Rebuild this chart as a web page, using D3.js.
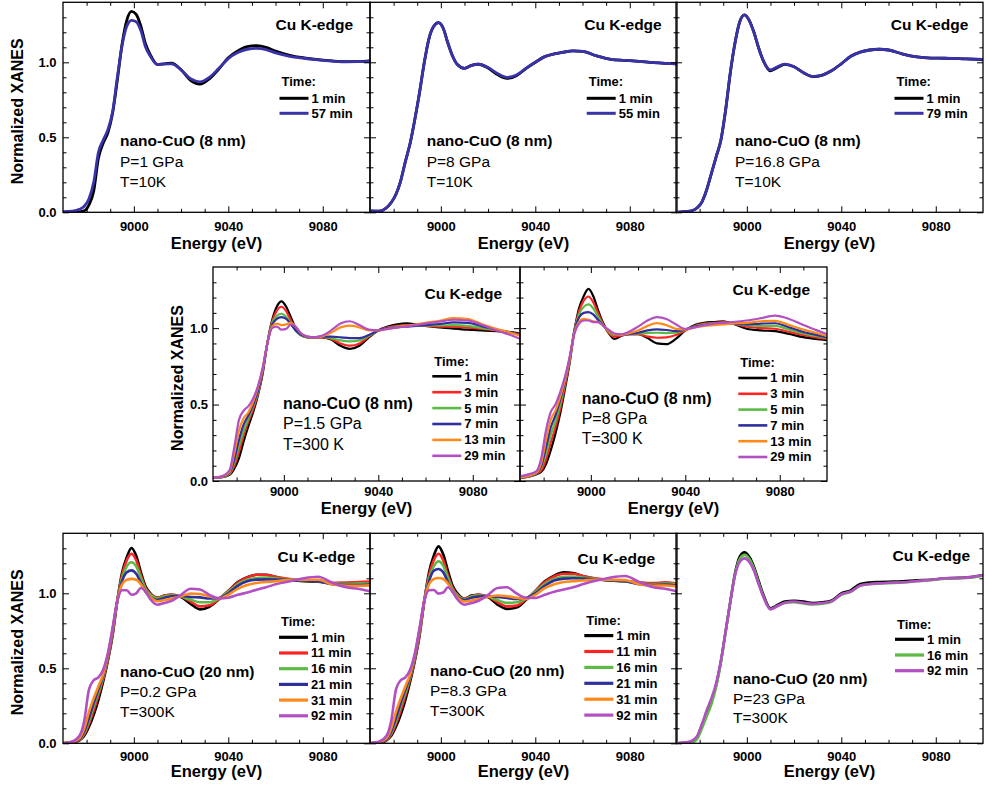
<!DOCTYPE html>
<html>
<head>
<meta charset="utf-8">
<script src="https://cdn.jsdelivr.net/npm/d3@7"></script>
<style>
  body { margin: 0; background: #fff; }
  svg text { font-family: Arial, "Liberation Sans", sans-serif; }
</style>
</head>
<body>
<div id="canvas"></div>
<script>
"use strict"

/* Configuration variables: drawing */
let svgWidth = 986;
let svgHeight = 788;
let panelWidth = 307;
let fontFamily = 'Arial, "Liberation Sans", sans-serif';

/* Axes: domains and ticks */
let xDomain = [8970, 9100];
let yDomain = [0, 1.4];
let xTicks = [9000, 9040, 9080];
let xMinorTicks = [8980, 8990, 9010, 9020, 9030, 9050, 9060, 9070, 9090];
let yTicks = [0, 0.5, 1.0];
let yMinorTicks = [0.1, 0.2, 0.3, 0.4, 0.6, 0.7, 0.8, 0.9, 1.1, 1.2, 1.3];

/* Energy grid (eV) shared by all spectra */
let energy = [8970, 8974, 8977, 8979, 8981, 8983, 8985, 8987, 8989, 8991,
    8993, 8995, 8997, 8999, 9001, 9003, 9005, 9007, 9010, 9013,
    9016, 9020, 9024, 9028, 9032, 9036, 9040, 9044, 9048, 9052,
    9056, 9060, 9066, 9072, 9078, 9084, 9090, 9095, 9100];

/* Legend labels */
let timesP1 = ["1 min", "57 min"];
let timesP2 = ["1 min", "55 min"];
let timesP3 = ["1 min", "79 min"];
let times8nm = ["1 min", "3 min", "5 min", "7 min", "13 min", "29 min"];
let times20nm = ["1 min", "11 min", "16 min", "21 min", "31 min", "92 min"];
let timesP8 = ["1 min", "16 min", "92 min"];

/* nano-CuO (8 nm), 1 GPa, 10 K */
let p1Min1 = [0.0, 0.0, 0.003, 0.01, 0.05, 0.14, 0.36, 0.46, 0.53, 0.66, 0.88, 1.12, 1.28, 1.34, 1.32, 1.24, 1.12, 1.05, 0.985, 0.99, 0.995, 0.95, 0.88, 0.855, 0.89, 0.955, 1.03, 1.075, 1.104, 1.111, 1.10, 1.075, 1.047, 1.03, 1.018, 1.009, 1.004, 1.005, 1.009];
let p1Min57 = [0.005, 0.008, 0.02, 0.04, 0.09, 0.2, 0.4, 0.48, 0.55, 0.67, 0.9, 1.11, 1.24, 1.28, 1.27, 1.21, 1.1, 1.04, 0.985, 0.99, 0.99, 0.95, 0.89, 0.87, 0.9, 0.96, 1.025, 1.065, 1.087, 1.093, 1.085, 1.063, 1.04, 1.027, 1.016, 1.008, 1.003, 1.004, 1.008];

/* nano-CuO (8 nm), 8 GPa, 10 K */
let p2Min1 = [0.01, 0.008, 0.03, 0.065, 0.12, 0.21, 0.34, 0.46, 0.62, 0.8, 1.0, 1.16, 1.24, 1.264, 1.227, 1.127, 1.04, 0.985, 0.96, 0.98, 0.987, 0.962, 0.918, 0.893, 0.91, 0.958, 1.0, 1.038, 1.056, 1.068, 1.076, 1.073, 1.043, 1.02, 1.013, 1.006, 0.998, 0.993, 0.989];
let p2Min55 = [0.01, 0.008, 0.03, 0.065, 0.12, 0.21, 0.34, 0.46, 0.62, 0.8, 1.0, 1.16, 1.24, 1.264, 1.227, 1.127, 1.04, 0.985, 0.96, 0.98, 0.987, 0.965, 0.925, 0.9, 0.915, 0.96, 1.0, 1.038, 1.056, 1.068, 1.076, 1.073, 1.043, 1.02, 1.013, 1.006, 0.998, 0.993, 0.989];

/* nano-CuO (8 nm), 16.8 GPa, 10 K */
let p3Min1 = [0.0, 0.005, 0.012, 0.03, 0.07, 0.15, 0.26, 0.37, 0.48, 0.68, 0.93, 1.13, 1.27, 1.316, 1.28, 1.2, 1.095, 1.01, 0.943, 0.965, 0.986, 0.97, 0.93, 0.905, 0.915, 0.945, 0.99, 1.04, 1.068, 1.082, 1.087, 1.082, 1.055, 1.036, 1.028, 1.027, 1.025, 1.021, 1.017];
let p3Min79 = [0.0, 0.005, 0.012, 0.03, 0.07, 0.15, 0.26, 0.37, 0.48, 0.68, 0.93, 1.13, 1.27, 1.316, 1.28, 1.2, 1.095, 1.01, 0.95, 0.97, 0.988, 0.97, 0.93, 0.906, 0.915, 0.945, 0.99, 1.04, 1.068, 1.082, 1.087, 1.082, 1.055, 1.036, 1.028, 1.027, 1.025, 1.022, 1.02];

/* nano-CuO (8 nm), 1.5 GPa, 300 K */
let p4Min1 = [0.02, 0.025, 0.04, 0.08, 0.15, 0.26, 0.36, 0.45, 0.56, 0.7, 0.9, 1.05, 1.14, 1.175, 1.14, 1.07, 1.0, 0.96, 0.94, 0.94, 0.94, 0.925, 0.885, 0.865, 0.885, 0.94, 0.985, 1.01, 1.025, 1.032, 1.025, 1.015, 1.005, 0.997, 0.99, 0.985, 0.98, 0.975, 0.965];
let p4Min3 = [0.02, 0.026, 0.045, 0.1, 0.19, 0.3, 0.39, 0.47, 0.57, 0.71, 0.9, 1.04, 1.115, 1.14, 1.11, 1.05, 0.99, 0.955, 0.94, 0.94, 0.94, 0.93, 0.9, 0.885, 0.9, 0.945, 0.985, 1.005, 1.015, 1.02, 1.02, 1.015, 1.01, 1.008, 1.003, 0.995, 0.985, 0.975, 0.96];
let p4Min5 = [0.02, 0.027, 0.05, 0.12, 0.23, 0.33, 0.41, 0.49, 0.58, 0.72, 0.9, 1.03, 1.08, 1.094, 1.075, 1.03, 0.985, 0.955, 0.94, 0.94, 0.942, 0.935, 0.92, 0.913, 0.92, 0.95, 0.985, 1.0, 1.01, 1.015, 1.017, 1.018, 1.018, 1.02, 1.015, 1.0, 0.988, 0.975, 0.955];
let p4Min7 = [0.02, 0.028, 0.055, 0.14, 0.27, 0.37, 0.43, 0.5, 0.59, 0.72, 0.9, 1.02, 1.06, 1.072, 1.06, 1.025, 0.985, 0.96, 0.943, 0.94, 0.945, 0.945, 0.94, 0.935, 0.935, 0.955, 0.985, 1.0, 1.005, 1.01, 1.015, 1.02, 1.027, 1.038, 1.035, 1.012, 0.99, 0.975, 0.955];
let p4Min13 = [0.02, 0.03, 0.06, 0.18, 0.33, 0.41, 0.45, 0.52, 0.61, 0.73, 0.9, 1.01, 1.03, 1.02, 1.025, 1.035, 1.01, 0.97, 0.945, 0.94, 0.945, 0.97, 1.005, 1.017, 1.005, 0.985, 0.985, 0.995, 1.005, 1.015, 1.025, 1.035, 1.048, 1.065, 1.06, 1.025, 0.995, 0.975, 0.95];
let p4Min29 = [0.02, 0.032, 0.07, 0.22, 0.4, 0.46, 0.49, 0.54, 0.62, 0.74, 0.9, 1.0, 1.01, 0.99, 0.995, 1.025, 1.01, 0.97, 0.945, 0.94, 0.95, 0.985, 1.03, 1.045, 1.02, 0.99, 0.985, 0.995, 1.005, 1.012, 1.02, 1.03, 1.043, 1.055, 1.05, 1.02, 0.985, 0.96, 0.93];

/* nano-CuO (8 nm), 8 GPa, 300 K */
let p5Min1 = [0.02, 0.03, 0.045, 0.06, 0.11, 0.2, 0.31, 0.44, 0.6, 0.77, 0.98, 1.13, 1.21, 1.257, 1.21, 1.12, 1.04, 0.98, 0.93, 0.95, 0.96, 0.96, 0.935, 0.9, 0.895, 0.93, 0.985, 1.02, 1.035, 1.04, 1.044, 1.03, 0.996, 0.985, 0.98, 0.962, 0.941, 0.93, 0.922];
let p5Min3 = [0.02, 0.03, 0.048, 0.07, 0.14, 0.25, 0.35, 0.47, 0.62, 0.78, 0.98, 1.11, 1.18, 1.207, 1.17, 1.1, 1.03, 0.98, 0.945, 0.953, 0.96, 0.96, 0.945, 0.937, 0.94, 0.955, 0.985, 1.015, 1.03, 1.035, 1.04, 1.03, 1.01, 1.0, 0.996, 0.975, 0.955, 0.94, 0.93];
let p5Min5 = [0.022, 0.032, 0.05, 0.09, 0.18, 0.3, 0.39, 0.5, 0.64, 0.79, 0.98, 1.09, 1.14, 1.155, 1.13, 1.075, 1.025, 0.985, 0.955, 0.955, 0.96, 0.965, 0.968, 0.97, 0.968, 0.97, 0.99, 1.012, 1.025, 1.032, 1.035, 1.03, 1.02, 1.015, 1.015, 0.99, 0.965, 0.95, 0.935];
let p5Min7 = [0.022, 0.033, 0.052, 0.1, 0.22, 0.35, 0.43, 0.53, 0.65, 0.8, 0.98, 1.07, 1.1, 1.105, 1.09, 1.055, 1.02, 0.99, 0.96, 0.955, 0.96, 0.97, 0.985, 0.992, 0.988, 0.98, 0.99, 1.01, 1.02, 1.028, 1.032, 1.03, 1.025, 1.03, 1.032, 1.005, 0.975, 0.958, 0.94];
let p5Min13 = [0.024, 0.035, 0.055, 0.12, 0.27, 0.4, 0.46, 0.55, 0.66, 0.8, 0.97, 1.04, 1.06, 1.055, 1.045, 1.04, 1.02, 0.99, 0.96, 0.955, 0.965, 0.985, 1.015, 1.033, 1.02, 0.995, 0.99, 1.005, 1.015, 1.02, 1.025, 1.03, 1.035, 1.045, 1.048, 1.02, 0.99, 0.97, 0.948];
let p5Min29 = [0.03, 0.045, 0.065, 0.15, 0.33, 0.45, 0.5, 0.58, 0.68, 0.81, 0.96, 1.03, 1.05, 1.05, 1.04, 1.04, 1.02, 0.995, 0.965, 0.96, 0.975, 1.01, 1.05, 1.072, 1.06, 1.025, 0.995, 1.005, 1.02, 1.03, 1.035, 1.04, 1.05, 1.065, 1.082, 1.06, 1.02, 0.99, 0.96];

/* nano-CuO (20 nm), 0.2 GPa, 300 K */
let p6Min1 = [0.0, 0.005, 0.02, 0.05, 0.11, 0.19, 0.29, 0.41, 0.55, 0.72, 0.95, 1.136, 1.24, 1.302, 1.25, 1.14, 1.045, 1.0, 0.97, 0.985, 0.99, 0.975, 0.93, 0.893, 0.91, 0.96, 1.015, 1.075, 1.108, 1.124, 1.124, 1.109, 1.09, 1.08, 1.078, 1.066, 1.069, 1.07, 1.073];
let p6Min11 = [0.0, 0.006, 0.022, 0.06, 0.13, 0.22, 0.32, 0.43, 0.56, 0.73, 0.95, 1.12, 1.22, 1.264, 1.22, 1.12, 1.035, 0.995, 0.97, 0.985, 0.99, 0.978, 0.945, 0.913, 0.92, 0.962, 1.015, 1.07, 1.105, 1.124, 1.122, 1.11, 1.095, 1.085, 1.082, 1.07, 1.07, 1.075, 1.078];
let p6Min16 = [0.0, 0.007, 0.025, 0.07, 0.15, 0.25, 0.34, 0.44, 0.57, 0.74, 0.95, 1.1, 1.18, 1.207, 1.18, 1.1, 1.025, 0.99, 0.965, 0.98, 0.985, 0.978, 0.958, 0.94, 0.94, 0.965, 1.01, 1.06, 1.09, 1.102, 1.105, 1.1, 1.092, 1.085, 1.08, 1.065, 1.062, 1.065, 1.065];
let p6Min21 = [0.0, 0.008, 0.028, 0.08, 0.17, 0.27, 0.36, 0.45, 0.58, 0.75, 0.95, 1.08, 1.14, 1.153, 1.13, 1.07, 1.01, 0.975, 0.955, 0.97, 0.98, 0.982, 0.975, 0.973, 0.965, 0.968, 1.0, 1.05, 1.08, 1.091, 1.093, 1.092, 1.09, 1.085, 1.08, 1.06, 1.055, 1.055, 1.058];
let p6Min31 = [0.0, 0.01, 0.035, 0.1, 0.21, 0.3, 0.38, 0.46, 0.59, 0.76, 0.95, 1.06, 1.09, 1.096, 1.09, 1.06, 1.01, 0.975, 0.947, 0.955, 0.965, 0.98, 0.998, 0.995, 0.98, 0.965, 0.99, 1.03, 1.055, 1.069, 1.075, 1.08, 1.09, 1.09, 1.09, 1.06, 1.05, 1.05, 1.053];
let p6Min92 = [0.0, 0.012, 0.05, 0.15, 0.36, 0.42, 0.44, 0.49, 0.6, 0.77, 0.95, 1.02, 1.02, 0.99, 1.0, 1.035, 1.01, 0.96, 0.924, 0.936, 0.95, 0.99, 1.03, 1.025, 0.99, 0.965, 0.97, 0.99, 1.005, 1.024, 1.04, 1.06, 1.08, 1.1, 1.11, 1.07, 1.04, 1.03, 1.013];

/* nano-CuO (20 nm), 8.3 GPa, 300 K */
let p7Min1 = [0.0, 0.004, 0.02, 0.05, 0.11, 0.19, 0.29, 0.41, 0.55, 0.72, 0.95, 1.14, 1.25, 1.313, 1.26, 1.15, 1.05, 1.0, 0.965, 0.985, 0.99, 0.975, 0.925, 0.896, 0.905, 0.955, 1.015, 1.08, 1.118, 1.14, 1.135, 1.115, 1.095, 1.085, 1.08, 1.07, 1.065, 1.07, 1.062];
let p7Min11 = [0.0, 0.005, 0.022, 0.06, 0.13, 0.22, 0.32, 0.43, 0.56, 0.73, 0.95, 1.12, 1.22, 1.264, 1.22, 1.12, 1.035, 0.99, 0.965, 0.98, 0.99, 0.978, 0.94, 0.913, 0.918, 0.96, 1.015, 1.075, 1.112, 1.13, 1.13, 1.115, 1.098, 1.088, 1.082, 1.072, 1.068, 1.072, 1.065];
let p7Min16 = [0.0, 0.006, 0.025, 0.07, 0.15, 0.25, 0.34, 0.44, 0.57, 0.74, 0.95, 1.1, 1.18, 1.213, 1.185, 1.1, 1.025, 0.985, 0.96, 0.978, 0.985, 0.978, 0.955, 0.936, 0.94, 0.965, 1.01, 1.062, 1.095, 1.11, 1.112, 1.105, 1.095, 1.085, 1.08, 1.065, 1.06, 1.065, 1.06];
let p7Min21 = [0.0, 0.007, 0.028, 0.08, 0.17, 0.27, 0.36, 0.45, 0.58, 0.75, 0.95, 1.08, 1.15, 1.162, 1.14, 1.075, 1.01, 0.975, 0.955, 0.97, 0.978, 0.982, 0.975, 0.969, 0.962, 0.968, 1.0, 1.05, 1.085, 1.098, 1.1, 1.098, 1.092, 1.085, 1.08, 1.06, 1.055, 1.058, 1.05];
let p7Min31 = [0.0, 0.009, 0.035, 0.1, 0.21, 0.3, 0.38, 0.46, 0.59, 0.76, 0.95, 1.06, 1.095, 1.102, 1.095, 1.065, 1.01, 0.972, 0.945, 0.952, 0.962, 0.975, 0.985, 0.98, 0.97, 0.962, 0.99, 1.035, 1.06, 1.075, 1.08, 1.085, 1.092, 1.09, 1.088, 1.06, 1.05, 1.052, 1.045];
let p7Min92 = [0.0, 0.012, 0.05, 0.15, 0.36, 0.42, 0.44, 0.49, 0.6, 0.77, 0.95, 1.02, 1.022, 0.998, 1.005, 1.04, 1.01, 0.96, 0.924, 0.935, 0.95, 0.99, 1.035, 1.04, 1.0, 0.97, 0.969, 0.99, 1.01, 1.025, 1.04, 1.06, 1.085, 1.105, 1.115, 1.075, 1.04, 1.03, 1.013];

/* nano-CuO (20 nm), 23 GPa, 300 K */
let p8Min1 = [0.0, 0.004, 0.01, 0.044, 0.12, 0.2, 0.278, 0.389, 0.545, 0.744, 0.944, 1.133, 1.244, 1.273, 1.244, 1.178, 1.082, 0.99, 0.9, 0.922, 0.945, 0.95, 0.945, 0.935, 0.94, 0.953, 1.0, 1.02, 1.062, 1.072, 1.075, 1.077, 1.08, 1.087, 1.09, 1.1, 1.103, 1.108, 1.122];
let p8Min16 = [0.0, 0.0, 0.005, 0.03, 0.1, 0.18, 0.26, 0.375, 0.535, 0.74, 0.944, 1.125, 1.23, 1.256, 1.23, 1.165, 1.07, 0.98, 0.895, 0.915, 0.935, 0.94, 0.932, 0.925, 0.93, 0.945, 0.99, 1.01, 1.05, 1.06, 1.065, 1.068, 1.072, 1.08, 1.088, 1.098, 1.1, 1.105, 1.118];
let p8Min92 = [0.0, 0.006, 0.02, 0.05, 0.13, 0.22, 0.3, 0.4, 0.55, 0.745, 0.944, 1.12, 1.21, 1.233, 1.21, 1.15, 1.06, 0.975, 0.893, 0.915, 0.937, 0.945, 0.937, 0.93, 0.935, 0.948, 0.995, 1.012, 1.052, 1.062, 1.066, 1.07, 1.074, 1.082, 1.09, 1.1, 1.102, 1.108, 1.12];

/* colours */
let twoColors = ["#000000", "#3a32a8"];
let sixColors = ["#000000", "#ff2424", "#5cba45", "#2f2f9e", "#ff8a1c", "#b24fc2"];
let threeColors = ["#000000", "#5cba45", "#b24fc2"];

/* Panel layout (positions in px) */
let row1 = { top: 2.3, height: 210, xPad: 9.6, titleDy: 36.3, yLabelX: 17.5, yPad: 6.5, lw: 2.8, legendLw: 3 };
let row2 = { top: 267, height: 214, xPad: 5.4, titleDy: 32.5, yLabelX: 177.5, yPad: 5, lw: 2.2, legendLw: 2.6 };
let row3 = { top: 533.3, height: 210, xPad: 8.5, titleDy: 34, yLabelX: 17.5, yPad: 6.5, lw: 2.6, legendLw: 3.2 };

let panels = [
    { row: row1, left: 63, yAxis: true, sample: "nano-CuO (8 nm)", pressure: "P=1 GPa", temp: "T=10K",
      times: timesP1, series: [p1Min1, p1Min57], colors: twoColors,
      legX: 216.5, legY: 79.4, legFirst: 16.6, legGap: 15, textX: 57, textY: 138, textGap: 20.7, edgeX: 290, edgeY: 21.7 },
    { row: row1, left: 370, yAxis: false, sample: "nano-CuO (8 nm)", pressure: "P=8 GPa", temp: "T=10K",
      times: timesP2, series: [p2Min1, p2Min55], colors: twoColors,
      legX: 216.7, legY: 79.4, legFirst: 16.6, legGap: 15, textX: 56.7, textY: 138, textGap: 20.7, edgeX: 291.7, edgeY: 21.7 },
    { row: row1, left: 676, yAxis: false, sample: "nano-CuO (8 nm)", pressure: "P=16.8 GPa", temp: "T=10K",
      times: timesP3, series: [p3Min1, p3Min79], colors: twoColors,
      legX: 218.5, legY: 79.4, legFirst: 16.6, legGap: 15, textX: 59, textY: 138, textGap: 20.7, edgeX: 292.3, edgeY: 21.7 },
    { row: row2, left: 213, yAxis: true, sample: "nano-CuO (8 nm)", pressure: "P=1.5 GPa", temp: "T=300 K",
      times: times8nm, series: [p4Min1, p4Min3, p4Min5, p4Min7, p4Min13, p4Min29], colors: sixColors,
      legX: 219.3, legY: 94.3, legFirst: 15, legGap: 15.9, textX: 70, textY: 136.7, textGap: 20.2, edgeX: 289, edgeY: 26.3 },
    { row: row2, left: 520, yAxis: false, sample: "nano-CuO (8 nm)", pressure: "P=8 GPa", temp: "T=300 K",
      times: times8nm, series: [p5Min1, p5Min3, p5Min5, p5Min7, p5Min13, p5Min29], colors: sixColors,
      legX: 218.3, legY: 95.7, legFirst: 15.3, legGap: 15.8, textX: 61.7, textY: 131.3, textGap: 20.3, edgeX: 290, edgeY: 22.3 },
    { row: row3, left: 63, yAxis: true, sample: "nano-CuO (20 nm)", pressure: "P=0.2 GPa", temp: "T=300K",
      times: times20nm, series: [p6Min1, p6Min11, p6Min16, p6Min21, p6Min31, p6Min92], colors: sixColors,
      legX: 216, legY: 88.3, legFirst: 15.7, legGap: 15.7, textX: 57, textY: 138, textGap: 20, edgeX: 292, edgeY: 22.7 },
    { row: row3, left: 370, yAxis: false, sample: "nano-CuO (20 nm)", pressure: "P=8.3 GPa", temp: "T=300K",
      times: times20nm, series: [p7Min1, p7Min11, p7Min16, p7Min21, p7Min31, p7Min92], colors: sixColors,
      legX: 214.3, legY: 87.3, legFirst: 15, legGap: 15.9, textX: 60, textY: 137.2, textGap: 20, edgeX: 285, edgeY: 25 },
    { row: row3, left: 676, yAxis: false, sample: "nano-CuO (20 nm)", pressure: "P=23 GPa", temp: "T=300K",
      times: timesP8, series: [p8Min1, p8Min16, p8Min92], colors: threeColors,
      legX: 219, legY: 90.7, legFirst: 15.3, legGap: 15.7, textX: 57, textY: 145.5, textGap: 19.5, edgeX: 294, edgeY: 21.7 }
];

/* Create drawing canvas */
let svg = d3.select("#canvas")
    .append("svg")
    .attr("width", svgWidth)
    .attr("height", svgHeight)
    .style("display", "block");

function styleAxis(sel, size) {
    sel.select(".domain").remove();
    sel.attr("font-family", fontFamily)
        .attr("font-size", size)
        .attr("font-weight", "bold");
    sel.selectAll(".tick line").attr("stroke", "#000").attr("stroke-width", 1);
    sel.selectAll(".tick text").attr("fill", "#000");
}

panels.forEach((p, k) => {
    let r = p.row;
    let top = r.top, bottom = r.top + r.height;
    let left = p.left, right = p.left + panelWidth;

    let xScale = d3.scaleLinear().domain(xDomain).range([left, right]);
    let yScale = d3.scaleLinear().domain(yDomain).range([bottom, top]);

    let g = svg.append("g");

    /* clip to plot area */
    let clipId = "clip" + k;
    svg.append("clipPath").attr("id", clipId)
        .append("rect")
        .attr("x", left).attr("y", top)
        .attr("width", panelWidth).attr("height", r.height);

    /* spectra */
    let line = d3.line()
        .x((d, i) => xScale(energy[i]))
        .y(d => yScale(d))
        .curve(d3.curveMonotoneX);

    g.append("g")
        .attr("clip-path", "url(#" + clipId + ")")
        .selectAll("path")
        .data(p.series)
        .join("path")
        .attr("d", line)
        .attr("fill", "none")
        .attr("stroke", (d, i) => p.colors[i])
        .attr("stroke-width", r.lw)
        .attr("stroke-linejoin", "round");

    /* ticks on four sides, pointing inward */
    let bottomAxis = g.append("g")
        .attr("transform", "translate(0," + bottom + ")")
        .call(d3.axisBottom(xScale).tickValues(xTicks).tickSizeInner(-6).tickSizeOuter(0)
            .tickPadding(r.xPad).tickFormat(d3.format("d")));
    styleAxis(bottomAxis, 13);

    let bottomMinor = g.append("g")
        .attr("transform", "translate(0," + bottom + ")")
        .call(d3.axisBottom(xScale).tickValues(xMinorTicks).tickSizeInner(-3.5).tickSizeOuter(0).tickFormat(""));
    styleAxis(bottomMinor, 13);

    let topAxis = g.append("g")
        .attr("transform", "translate(0," + top + ")")
        .call(d3.axisTop(xScale).tickValues(xTicks).tickSizeInner(-6).tickSizeOuter(0).tickFormat(""));
    styleAxis(topAxis, 13);
    let topMinor = g.append("g")
        .attr("transform", "translate(0," + top + ")")
        .call(d3.axisTop(xScale).tickValues(xMinorTicks).tickSizeInner(-3.5).tickSizeOuter(0).tickFormat(""));
    styleAxis(topMinor, 13);

    let leftAxis = g.append("g")
        .attr("transform", "translate(" + left + ",0)")
        .call(d3.axisLeft(yScale).tickValues(yTicks).tickSizeInner(-6).tickSizeOuter(0)
            .tickPadding(r.yPad).tickFormat(p.yAxis ? d3.format(".1f") : ""));
    styleAxis(leftAxis, 13);
    let leftMinor = g.append("g")
        .attr("transform", "translate(" + left + ",0)")
        .call(d3.axisLeft(yScale).tickValues(yMinorTicks).tickSizeInner(-3.5).tickSizeOuter(0).tickFormat(""));
    styleAxis(leftMinor, 13);

    let rightAxis = g.append("g")
        .attr("transform", "translate(" + right + ",0)")
        .call(d3.axisRight(yScale).tickValues(yTicks).tickSizeInner(-6).tickSizeOuter(0).tickFormat(""));
    styleAxis(rightAxis, 13);
    let rightMinor = g.append("g")
        .attr("transform", "translate(" + right + ",0)")
        .call(d3.axisRight(yScale).tickValues(yMinorTicks).tickSizeInner(-3.5).tickSizeOuter(0).tickFormat(""));
    styleAxis(rightMinor, 13);

    /* frame */
    g.append("rect")
        .attr("x", left).attr("y", top)
        .attr("width", panelWidth).attr("height", r.height)
        .attr("fill", "none")
        .attr("stroke", "#000")
        .attr("stroke-width", 1.3);

    /* axis titles */
    g.append("text")
        .attr("x", (left + right) / 2)
        .attr("y", bottom + r.titleDy)
        .attr("text-anchor", "middle")
        .attr("font-size", 16.5)
        .attr("font-weight", "bold")
        .text("Energy (eV)");

    if (p.yAxis) {
        g.append("text")
            .attr("transform", "translate(" + r.yLabelX + "," + ((top + bottom) / 2 + 4) + ") rotate(-90)")
            .attr("text-anchor", "middle")
            .attr("dominant-baseline", "central")
            .attr("font-size", 16)
            .attr("font-weight", "bold")
            .text("Normalized XANES");
    }

    /* edge label */
    g.append("text")
        .attr("x", left + p.edgeX)
        .attr("y", top + p.edgeY)
        .attr("text-anchor", "end")
        .attr("dominant-baseline", "central")
        .attr("font-size", 15.5)
        .attr("font-weight", "bold")
        .text("Cu K-edge");

    /* sample description */
    let desc = [p.sample, p.pressure, p.temp];
    g.selectAll("text.desc")
        .data(desc)
        .join("text")
        .attr("class", "desc")
        .attr("x", left + p.textX)
        .attr("y", (d, i) => top + p.textY + i * p.textGap)
        .attr("dominant-baseline", "central")
        .attr("font-size", r === row2 ? 16 : 15.5)
        .attr("font-weight", (d, i) => i === 0 ? "bold" : "normal")
        .text(d => d);

    /* legend */
    let key = g.append("g")
        .attr("transform", "translate(" + (left + p.legX) + "," + (top + p.legY) + ")");

    key.append("text")
        .attr("x", 2)
        .attr("y", 0)
        .attr("dominant-baseline", "central")
        .attr("font-size", 13)
        .attr("font-weight", "bold")
        .text("Time:");

    key.selectAll("line")
        .data(p.times)
        .join("line")
        .attr("x1", 0)
        .attr("x2", 29)
        .attr("y1", (d, i) => p.legFirst + i * p.legGap)
        .attr("y2", (d, i) => p.legFirst + i * p.legGap)
        .attr("stroke", (d, i) => p.colors[i])
        .attr("stroke-width", r.legendLw);

    key.selectAll("text.label")
        .data(p.times)
        .join("text")
        .attr("class", "label")
        .attr("x", 32)
        .attr("y", (d, i) => p.legFirst + i * p.legGap)
        .attr("dominant-baseline", "central")
        .attr("font-size", 13)
        .attr("font-weight", "bold")
        .text(d => d);
});
</script>
</body>
</html>
